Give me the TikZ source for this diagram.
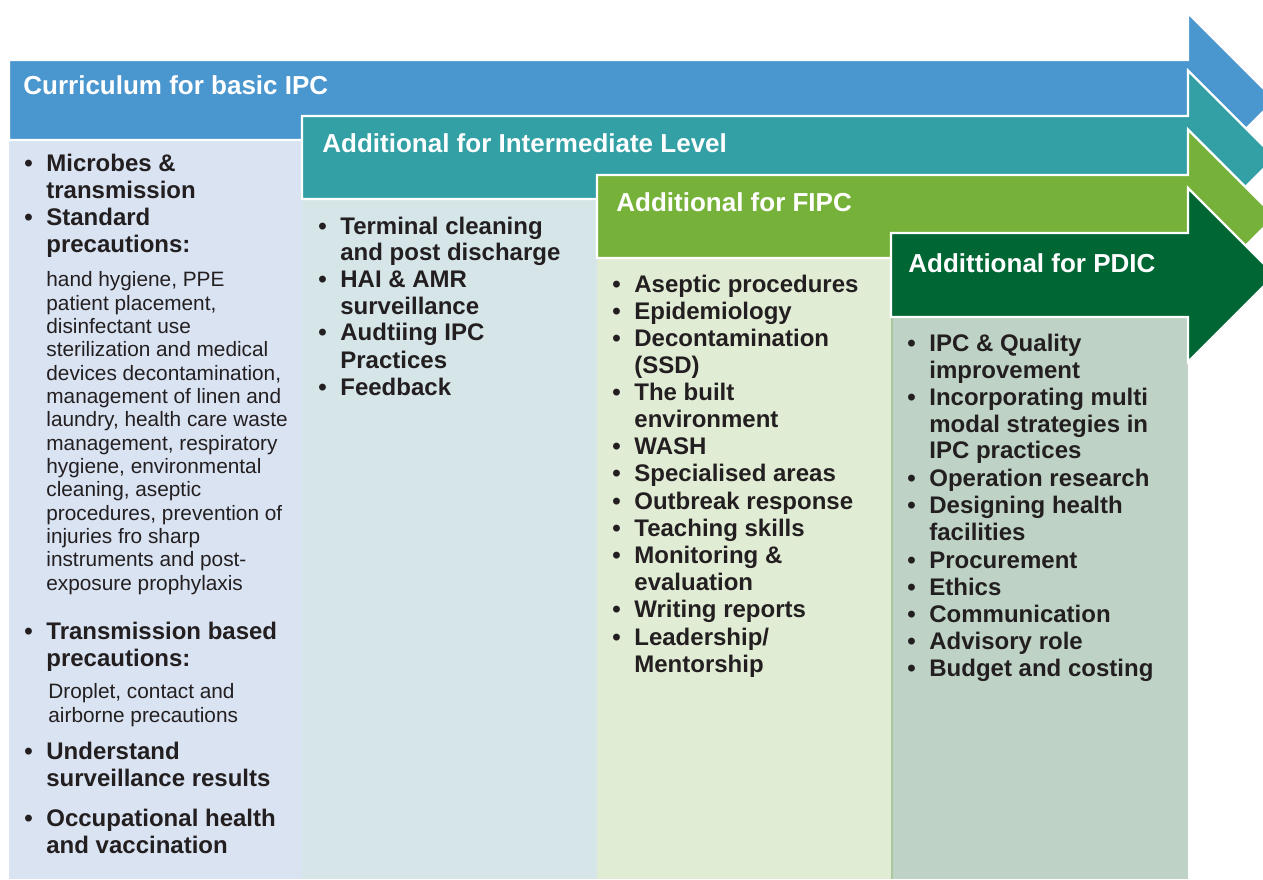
\documentclass[tikz,border=0pt]{standalone}
\usepackage{fontspec}
\setmainfont{Liberation Sans}
\definecolor{ipcblue}{RGB}{74,150,207}
\definecolor{ipcteal}{RGB}{50,160,164}
\definecolor{ipcgreen}{RGB}{118,178,58}
\definecolor{ipcdark}{RGB}{0,102,51}
\definecolor{colblue}{RGB}{217,227,242}
\definecolor{colteal}{RGB}{213,229,232}
\definecolor{colgreen}{RGB}{225,236,213}
\definecolor{coldark}{RGB}{190,211,197}
\definecolor{coledge}{RGB}{168,200,160}
\definecolor{txt}{RGB}{35,31,32}
\newcommand{\bul}{\llap{\makebox[11pt][l]{\textbullet}}}

\begin{document}
\begin{tikzpicture}
[x=0.5pt, y=-0.5pt,
arrowbox/.style={draw=white, line width=1.2pt},
header/.style={anchor=base west, inner sep=0pt, text=white, font=\fontsize{13}{15}\selectfont\bfseries},
item/.style={anchor=base west, inner sep=0pt, text=txt, font=\fontsize{12}{14}\selectfont\bfseries},
detail/.style={anchor=base west, inner sep=0pt, text=txt, font=\fontsize{10.4}{12}\selectfont}
]
\useasboundingbox (0,0) rectangle (1263,879);
\clip (0,0) rectangle (1263,879);

\fill[colblue] (9,140) rectangle (1188,879);
\fill[colteal] (302,199) rectangle (1188,879);
\fill[colgreen] (597,258) rectangle (1188,879);
\fill[coldark] (891,317) rectangle (1188,879);
\draw[coledge, line width=1pt] (892,317) -- (892,879);

\filldraw[arrowbox, fill=ipcblue] (9,60) -- (1188,60) -- (1188,13) -- (1275,100) -- (1188,187) -- (1188,140) -- (9,140) -- cycle;
\filldraw[arrowbox, fill=ipcteal] (302,116) -- (1188,116) -- (1188,70.5) -- (1275,157.5) -- (1188,244.5) -- (1188,199) -- (302,199) -- cycle;
\filldraw[arrowbox, fill=ipcgreen] (597,175) -- (1188,175) -- (1188,129.5) -- (1275,216.5) -- (1188,303.5) -- (1188,258) -- (597,258) -- cycle;
\filldraw[arrowbox, fill=ipcdark] (891,233) -- (1188,233) -- (1188,188) -- (1275,275) -- (1188,362) -- (1188,317) -- (891,317) -- cycle;

\node[header] (hbasic) at (23,94) {Curriculum for basic IPC};
\node[header] (hinter) at (322,152) {Additional for Intermediate Level};
\node[header] (hfipc) at (616,211) {Additional for FIPC};
\node[header] (hpdic) at (908,272) {Addittional for PDIC};

\node[item] (b01) at (46,171.5) {\bul Microbes \&};
\node[item] (b02) at (46,198.5) {transmission};
\node[item] (b03) at (46,225.5) {\bul Standard};
\node[item] (b04) at (46,252) {precautions:};
\node[detail] (d01) at (46,286.7) {hand hygiene, PPE};
\node[detail] (d02) at (46,310) {patient placement,};
\node[detail] (d03) at (46,333.3) {disinfectant use};
\node[detail] (d04) at (46,356.7) {sterilization and medical};
\node[detail] (d05) at (46,380) {devices decontamination,};
\node[detail] (d06) at (46,403.3) {management of linen and};
\node[detail] (d07) at (46,426.7) {laundry, health care waste};
\node[detail] (d08) at (46,450) {management, respiratory};
\node[detail] (d09) at (46,473.3) {hygiene, environmental};
\node[detail] (d10) at (46,496.7) {cleaning, aseptic};
\node[detail] (d11) at (46,520) {procedures, prevention of};
\node[detail] (d12) at (46,543.3) {injuries fro sharp};
\node[detail] (d13) at (46,566.7) {instruments and post-};
\node[detail] (d14) at (46,590) {exposure prophylaxis};
\node[item] (b05) at (46,639) {\bul Transmission based};
\node[item] (b06) at (46,666) {precautions:};
\node[detail] (d15) at (48,698) {Droplet, contact and};
\node[detail] (d16) at (48,722) {airborne precautions};
\node[item] (b07) at (46,759) {\bul Understand};
\node[item] (b08) at (46,786) {surveillance results};
\node[item] (b09) at (46,826) {\bul Occupational health};
\node[item] (b10) at (46,853) {and vaccination};

\node[item] (i01) at (340,234.3) {\bul Terminal cleaning};
\node[item] (i02) at (340,260.7) {and post discharge};
\node[item] (i03) at (340,287.3) {\bul HAI \& AMR};
\node[item] (i04) at (340,314) {surveillance};
\node[item] (i05) at (340,340.7) {\bul Audtiing IPC};
\node[item] (i06) at (340,368) {Practices};
\node[item] (i07) at (340,395) {\bul Feedback};

\node[item] (f01) at (634,292.3) {\bul Aseptic procedures};
\node[item] (f02) at (634,319.3) {\bul Epidemiology};
\node[item] (f03) at (634,346.7) {\bul Decontamination};
\node[item] (f04) at (634,373.5) {(SSD)};
\node[item] (f05) at (634,400.7) {\bul The built};
\node[item] (f06) at (634,427.5) {environment};
\node[item] (f07) at (634,454.5) {\bul WASH};
\node[item] (f08) at (634,481.7) {\bul Specialised areas};
\node[item] (f09) at (634,509) {\bul Outbreak response};
\node[item] (f10) at (634,536) {\bul Teaching skills};
\node[item] (f11) at (634,563.3) {\bul Monitoring \&};
\node[item] (f12) at (634,590.5) {evaluation};
\node[item] (f13) at (634,617.7) {\bul Writing reports};
\node[item] (f14) at (634,645) {\bul Leadership/};
\node[item] (f15) at (634,672) {Mentorship};

\node[item] (p01) at (929,351.7) {\bul IPC \& Quality};
\node[item] (p02) at (929,378.5) {improvement};
\node[item] (p03) at (929,405.3) {\bul Incorporating multi};
\node[item] (p04) at (929,432) {modal strategies in};
\node[item] (p05) at (929,458.7) {IPC practices};
\node[item] (p06) at (929,486.5) {\bul Operation research};
\node[item] (p07) at (929,513.5) {\bul Designing health};
\node[item] (p08) at (929,540.5) {facilities};
\node[item] (p09) at (929,568) {\bul Procurement};
\node[item] (p10) at (929,595) {\bul Ethics};
\node[item] (p11) at (929,622.3) {\bul Communication};
\node[item] (p12) at (929,649.5) {\bul Advisory role};
\node[item] (p13) at (929,676.7) {\bul Budget and costing};
\end{tikzpicture}
\end{document}
